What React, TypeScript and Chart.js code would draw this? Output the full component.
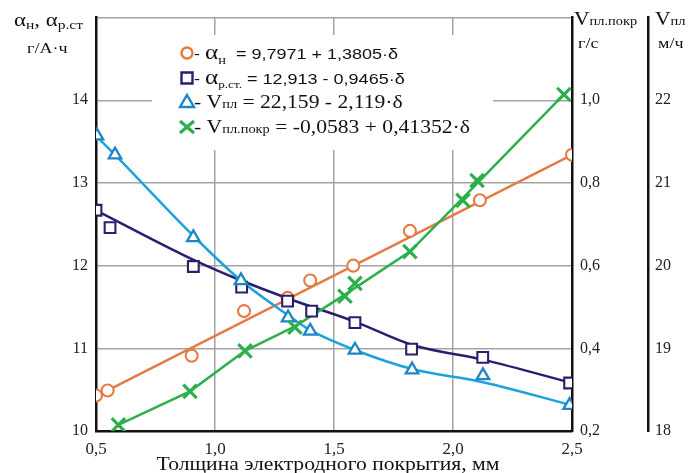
import React, { useEffect, useRef } from 'react';
import { Chart, registerables } from 'chart.js';
Chart.register(...registerables);

// ---- Data ----
// α_н (left axis, г/А·ч)
const alphaNX = [0.5, 0.549, 0.902, 1.122, 1.305, 1.40, 1.581, 1.819, 2.113, 2.5];
const alphaNY = [10.43, 10.49, 10.91, 11.45, 11.61, 11.82, 12.0, 12.42, 12.79, 13.34];
const alphaNLineX = [0.5, 0.549, 2.5];
const alphaNLineY = [10.43, 10.49, 13.34];

// α_р.ст (left axis, г/А·ч)
const alphaRX = [0.5, 0.559, 0.909, 1.112, 1.305, 1.406, 1.588, 1.826, 2.125, 2.49];
const alphaRY = [12.67, 12.46, 11.99, 11.74, 11.57, 11.45, 11.31, 10.99, 10.89, 10.58];
const alphaRLineX = [0.5, 0.91, 1.11, 1.31, 1.59, 1.83, 2.13, 2.5];
const alphaRLineY = [12.67, 12.07, 11.82, 11.6, 11.32, 11.04, 10.86, 10.58];

// V_пл (second right axis, м/ч)
const vplX = [0.504, 0.58, 0.909, 1.109, 1.307, 1.4, 1.588, 1.828, 2.126, 2.49];
const vplY = [21.57, 21.34, 20.34, 19.82, 19.37, 19.21, 18.98, 18.74, 18.67, 18.31];
const vplLineX = [0.5, 0.58, 0.909, 1.109, 1.307, 1.4, 1.588, 1.828, 2.126, 2.5];
const vplLineY = [21.57, 21.34, 20.36, 19.82, 19.4, 19.22, 18.98, 18.75, 18.59, 18.31];

// V_пл.покр (first right axis, г/с)
const vpokrX = [0.594, 0.895, 1.126, 1.336, 1.546, 1.588, 1.819, 2.042, 2.101, 2.466];
const vpokrY = [0.215, 0.296, 0.394, 0.451, 0.526, 0.557, 0.634, 0.758, 0.806, 1.014];
const vpokrLineX = [0.594, 0.895, 1.126, 1.336, 1.546, 1.819, 2.07, 2.466];
const vpokrLineY = [0.215, 0.296, 0.394, 0.453, 0.53, 0.634, 0.78, 1.014];

const xTicks = [0.5, 1.0, 1.5, 2.0, 2.5];

const ORANGE = '#E57A45';
const NAVY = '#2A1F6E';
const LBLUE = '#1EA2DC';
const TBLUE = '#1C86C8';
const GREEN = '#2DB04B';

const SERIF = '"Liberation Serif", "Times New Roman", serif';
const SANS = '"Liberation Sans", Arial, sans-serif';

const pts = (xs: number[], ys: number[]) => xs.map((x, i) => ({ x, y: ys[i] }));
const fmt = (v: number, d: number) => v.toFixed(d).replace('.', ',');

type Part = { t: string; f: string; dy?: number };
function drawRich(ctx: CanvasRenderingContext2D, x: number, y: number, parts: Part[], sx = 1.2, color = '#111') {
  ctx.save();
  ctx.translate(x, y);
  ctx.scale(sx, 1);
  ctx.fillStyle = color;
  ctx.textAlign = 'left';
  ctx.textBaseline = 'alphabetic';
  let cx = 0;
  for (const p of parts) {
    ctx.font = p.f;
    ctx.fillText(p.t, cx, p.dy || 0);
    cx += ctx.measureText(p.t).width;
  }
  ctx.restore();
}

function marker(ctx: CanvasRenderingContext2D, kind: string, x: number, y: number) {
  ctx.save();
  ctx.lineWidth = 2.4;
  ctx.fillStyle = '#fff';
  ctx.beginPath();
  if (kind === 'circle') {
    ctx.strokeStyle = ORANGE;
    ctx.arc(x, y, 5.5, 0, Math.PI * 2);
    ctx.fill();
    ctx.stroke();
  } else if (kind === 'rect') {
    ctx.strokeStyle = NAVY;
    ctx.rect(x - 5.5, y - 5.5, 11, 11);
    ctx.fill();
    ctx.stroke();
  } else if (kind === 'tri') {
    ctx.strokeStyle = TBLUE;
    ctx.moveTo(x, y - 7);
    ctx.lineTo(x + 7, y + 5);
    ctx.lineTo(x - 7, y + 5);
    ctx.closePath();
    ctx.fill();
    ctx.stroke();
  } else {
    ctx.strokeStyle = GREEN;
    ctx.lineWidth = 3.2;
    ctx.moveTo(x - 7, y - 6);
    ctx.lineTo(x + 7, y + 6);
    ctx.moveTo(x + 7, y - 6);
    ctx.lineTo(x - 7, y + 6);
    ctx.stroke();
  }
  ctx.restore();
}

const textPlugin = {
  id: 'texts',
  beforeDatasetsDraw(chart: any) {
    const ctx: CanvasRenderingContext2D = chart.ctx;
    ctx.save();
    ctx.fillStyle = '#fff';
    ctx.fillRect(152, 35, 341, 115);
    ctx.restore();
  },
  afterDraw(chart: any) {
    const ctx: CanvasRenderingContext2D = chart.ctx;
    const big = `19px ${SERIF}`;
    const sub = `13px ${SERIF}`;
    // left axis title
    drawRich(ctx, 14, 26, [
      { t: 'α', f: big },
      { t: 'н', f: sub, dy: 3 },
      { t: ', ', f: big },
      { t: 'α', f: big },
      { t: 'р.ст', f: sub, dy: 3 },
    ]);
    drawRich(ctx, 27, 53, [{ t: 'г/А·ч', f: `15px ${SERIF}` }]);
    // right axis titles
    drawRich(ctx, 574, 25, [
      { t: 'V', f: `18px ${SERIF}` },
      { t: 'пл.покр', f: `12px ${SERIF}` },
    ]);
    drawRich(ctx, 578, 48, [{ t: 'г/с', f: `15px ${SERIF}` }]);
    drawRich(ctx, 655, 25, [
      { t: 'V', f: `18px ${SERIF}` },
      { t: 'пл', f: `12px ${SERIF}` },
    ]);
    drawRich(ctx, 658, 48, [{ t: 'м/ч', f: `15px ${SERIF}` }]);

    // legend
    const eqS = `15px ${SANS}`;
    const eqT = `18px ${SERIF}`;
    marker(ctx, 'circle', 187, 53);
    drawRich(ctx, 194, 59, [
      { t: '- ', f: eqS },
      { t: 'α', f: `21px ${SERIF}` },
      { t: 'н', f: `12px ${SERIF}`, dy: 5 },
      { t: '  = 9,7971 + 1,3805·δ', f: eqS },
    ]);
    marker(ctx, 'rect', 187, 78);
    drawRich(ctx, 194, 84, [
      { t: '- ', f: eqS },
      { t: 'α', f: `21px ${SERIF}` },
      { t: 'р.ст.', f: `11px ${SERIF}`, dy: 4 },
      { t: ' = 12,913 - 0,9465·δ', f: eqS },
    ]);
    marker(ctx, 'tri', 187, 102);
    drawRich(ctx, 194, 108, [
      { t: '- ', f: eqT },
      { t: 'V', f: eqT },
      { t: 'пл', f: `12px ${SERIF}` },
      { t: ' = 22,159 - 2,119·δ', f: eqT },
    ]);
    marker(ctx, 'x', 187, 127);
    drawRich(ctx, 194, 133, [
      { t: '- ', f: eqT },
      { t: 'V', f: eqT },
      { t: 'пл.покр', f: `12px ${SERIF}` },
      { t: ' = -0,0583 + 0,41352·δ', f: eqT },
    ]);

    // x axis title
    ctx.save();
    ctx.font = `18px ${SERIF}`;
    const t = 'Толщина электродного покрытия, мм';
    const w = ctx.measureText(t).width * 1.2;
    const ca = chart.chartArea;
    ctx.restore();
    drawRich(ctx, (ca.left + ca.right) / 2 - w / 2 - 6, 470, [{ t, f: `18px ${SERIF}` }]);
  },
};

export default function App() {
  const ref = useRef<HTMLCanvasElement>(null);
  useEffect(() => {
    const lineDs = (data: any[], color: string, yAxisID: string, mode?: string) => ({
      data,
      yAxisID,
      showLine: true,
      borderColor: color,
      borderWidth: 2.5,
      pointRadius: 0,
      pointHoverRadius: 0,
      fill: false,
      cubicInterpolationMode: mode || 'default',
      tension: 0,
      order: 10,
    });
    const markDs = (data: any[], style: string, color: string, yAxisID: string, radius: number, bw: number) => ({
      data,
      yAxisID,
      showLine: false,
      pointStyle: style,
      pointRadius: radius,
      pointBorderColor: color,
      pointBackgroundColor: style === 'crossRot' ? color : '#fff',
      pointBorderWidth: bw,
      order: 1,
    });
    const chart = new Chart(ref.current!, {
      type: 'scatter',
      data: {
        datasets: [
          markDs(pts(vpokrX, vpokrY), 'crossRot', GREEN, 'y1', 9.5, 3.2),
          markDs(pts(vplX, vplY), 'triangle', TBLUE, 'y2', 7.2, 2.3),
          markDs(pts(alphaRX, alphaRY), 'rect', NAVY, 'y', 7.6, 2.1),
          markDs(pts(alphaNX, alphaNY), 'circle', ORANGE, 'y', 6, 2.1),
          lineDs(pts(vpokrLineX, vpokrLineY), GREEN, 'y1'),
          lineDs(pts(vplLineX, vplLineY), LBLUE, 'y2', 'monotone'),
          lineDs(pts(alphaRLineX, alphaRLineY), NAVY, 'y', 'monotone'),
          lineDs(pts(alphaNLineX, alphaNLineY), ORANGE, 'y'),
        ] as any,
      },
      options: {
        animation: false,
        responsive: true,
        maintainAspectRatio: false,
        layout: { padding: { top: 12, left: 0, right: 0, bottom: 0 } },
        plugins: { legend: { display: false }, tooltip: { enabled: false } },
        events: [],
        scales: {
          x: {
            type: 'linear',
            position: 'bottom',
            min: 0.5,
            max: 2.5,
            afterFit: (s: any) => { s.height = 42; },
            afterBuildTicks: (s: any) => { s.ticks = xTicks.map((v) => ({ value: v })); },
            ticks: {
              callback: (v: any) => fmt(Number(v), 1),
              font: { family: SERIF, size: 17 },
              color: '#222',
              padding: 8,
              maxRotation: 0,
              autoSkip: false,
            },
            grid: { color: '#a3a3a3', lineWidth: 1.5, drawTicks: false },
            border: { display: true, color: '#111', width: 2.5 },
          },
          y: {
            type: 'linear',
            position: 'left',
            min: 10,
            max: 15,
            afterFit: (s: any) => { s.width = 96; },
            ticks: {
              stepSize: 1,
              callback: (v: any) => (Number(v) >= 15 ? '' : String(v)),
              font: { family: SERIF, size: 16 },
              color: '#222',
              padding: 8,
            },
            grid: { color: '#a3a3a3', lineWidth: 1.5, drawTicks: false },
            border: { display: true, color: '#111', width: 2.5 },
          },
          y1: {
            type: 'linear',
            position: 'right',
            weight: 0,
            min: 0.2,
            max: 1.2,
            afterFit: (s: any) => { s.width = 76; },
            ticks: {
              stepSize: 0.2,
              callback: (v: any) => (Number(v) > 1.1 ? '' : fmt(Number(v), 1)),
              font: { family: SERIF, size: 16 },
              color: '#222',
              padding: 8,
            },
            grid: { drawOnChartArea: false, drawTicks: false },
            border: { display: true, color: '#111', width: 2.5 },
          },
          y2: {
            type: 'linear',
            position: 'right',
            weight: 1,
            min: 18,
            max: 23,
            afterFit: (s: any) => { s.width = 40; },
            ticks: {
              stepSize: 1,
              callback: (v: any) => (Number(v) >= 23 ? '' : String(v)),
              font: { family: SERIF, size: 16 },
              color: '#222',
              padding: 7,
            },
            grid: { drawOnChartArea: false, drawTicks: false },
            border: { display: true, color: '#111', width: 2.5 },
          },
        },
      } as any,
      plugins: [textPlugin],
    });
    return () => chart.destroy();
  }, []);
  return (
    <div style={{ position: 'fixed', left: 0, top: 0, width: 688, height: 473, background: '#fff' }}>
      <canvas ref={ref} />
    </div>
  );
}
